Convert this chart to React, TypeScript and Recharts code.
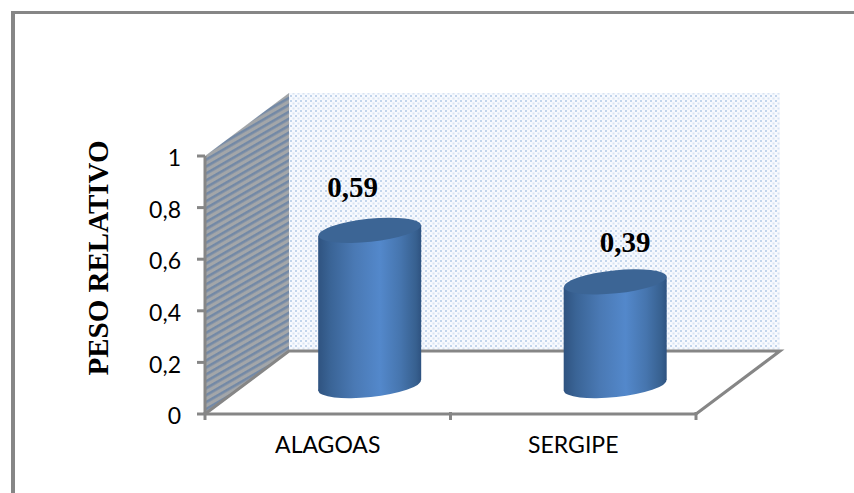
import { Bar, BarChart, Label, XAxis, YAxis, usePlotArea } from "recharts";

const estados = ["ALAGOAS", "SERGIPE"];
const pesoRelativo = [0.59, 0.39];
const yTicks = [0, 0.2, 0.4, 0.6, 0.8, 1];

const data = estados.map((estado, i) => ({ estado, peso: pesoRelativo[i] }));

const GRAY = "#868686";
const WIDTH = 854;
const HEIGHT = 493;

// depth of the pseudo-3D box, from the front axes to the back wall
const DEPTH_X = 84;
const DEPTH_Y = 63;

// hand-placed data labels, relative to the top of each cylinder
const labelNudge = [
  { dx: -17, dy: -33 },
  { dx: 10, dy: -30 },
];

const comma = (v: number) => String(v).replace(".", ",");

function Walls() {
  const plot = usePlotArea();
  if (!plot) return null;
  const left = plot.x;
  const right = plot.x + plot.width;
  const top = plot.y;
  const bottom = plot.y + plot.height;
  const backL = left + DEPTH_X;
  const backR = right + DEPTH_X;
  const backT = top - DEPTH_Y;
  const backB = bottom - DEPTH_Y;
  return (
    <g>
      <rect x={backL} y={backT} width={backR - backL} height={backB - backT} fill="url(#backWall)" />
      <polygon
        points={`${left},${top} ${backL},${backT} ${backL},${backB} ${left},${bottom}`}
        fill="url(#sideWall)"
      />
      <polyline
        points={`${left},${bottom} ${backL},${backB} ${backR},${backB} ${right},${bottom}`}
        fill="none"
        stroke={GRAY}
        strokeWidth={3}
      />
    </g>
  );
}

// cylinder standing halfway into the box depth
const Cylinder = ({ x, y, width, height }: any) => {
  const cx = x + width / 2 + DEPTH_X / 2;
  const rx = width / 2;
  const ry = 11.5;
  const tilt = -6;
  const lift = rx * Math.sin((-tilt * Math.PI) / 180);
  const topY = y - DEPTH_Y / 2;
  const baseY = y + height - DEPTH_Y / 2 + 3;
  const wall = [
    [cx - rx, topY + lift],
    [cx - rx, baseY + lift],
    [cx + rx, baseY - lift],
    [cx + rx, topY - lift],
  ]
    .map((p) => p.join(","))
    .join(" ");
  return (
    <g>
      <ellipse
        cx={cx}
        cy={baseY}
        rx={rx}
        ry={ry}
        transform={`rotate(${tilt} ${cx} ${baseY})`}
        fill="url(#cylBody)"
      />
      <polygon points={wall} fill="url(#cylBody)" />
      <ellipse
        cx={cx}
        cy={topY}
        rx={rx}
        ry={ry}
        transform={`rotate(${tilt} ${cx} ${topY})`}
        fill="#3c6595"
      />
    </g>
  );
};

const ValueLabel = ({ x, y, width, value, index }: any) => (
  <text
    x={x + width / 2 + DEPTH_X / 2 + labelNudge[index].dx}
    y={y - DEPTH_Y / 2 + labelNudge[index].dy}
    textAnchor="middle"
    fontFamily="'Liberation Serif', serif"
    fontWeight="bold"
    fontSize={29}
    fill="#000"
  >
    {comma(value)}
  </text>
);

// category label plus tick marks on the band edges instead of the band centre
const CategoryTick = ({ x, y, payload }: any) => {
  const half = payload.offset;
  const axisY = y - 22;
  return (
    <g>
      <line x1={x - half} x2={x - half} y1={axisY} y2={axisY + 8} stroke={GRAY} strokeWidth={3} />
      <line x1={x + half} x2={x + half} y1={axisY} y2={axisY + 8} stroke={GRAY} strokeWidth={3} />
      <text
        x={x}
        y={y + 19}
        textAnchor="middle"
        fontFamily="Lato, sans-serif"
        fontSize={23}
        fill="#000"
      >
        {payload.value}
      </text>
    </g>
  );
};

export default function App() {
  return (
    <div style={{ position: "absolute", left: 0, top: 0, width: WIDTH, height: HEIGHT, background: "#fff", overflow: "hidden" }}>
      <div style={{ position: "absolute", left: 11, top: 11, width: WIDTH, height: HEIGHT, borderLeft: `4px solid ${GRAY}`, borderTop: `3px solid ${GRAY}` }} />
      <BarChart
        width={WIDTH}
        height={HEIGHT}
        data={data}
        barCategoryGap="29%"
        margin={{ top: 156, right: 158, bottom: 39, left: 145 }}
        style={{ position: "absolute", left: 0, top: 0 }}
      >
        <defs>
          <pattern id="backWall" width="5" height="5" patternUnits="userSpaceOnUse">
            <rect width="5" height="5" fill="#f8fafe" />
            <rect width="2" height="2" fill="#c2d5ec" />
            <rect x="2.5" y="2.5" width="2" height="2" fill="#d8e4f3" />
          </pattern>
          <pattern id="sideWall" width="6" height="6" patternUnits="userSpaceOnUse" patternTransform="rotate(-30)">
            <rect width="6" height="6" fill="#a3a6a9" />
            <rect width="6" height="2.6" fill="#7389a6" />
          </pattern>
          <linearGradient id="cylBody" x1="0" y1="0" x2="1" y2="0">
            <stop offset="0%" stopColor="#2f5380" />
            <stop offset="12%" stopColor="#3a6496" />
            <stop offset="35%" stopColor="#4a79b4" />
            <stop offset="60%" stopColor="#5388cb" />
            <stop offset="80%" stopColor="#4675ae" />
            <stop offset="95%" stopColor="#37608f" />
            <stop offset="100%" stopColor="#2e5280" />
          </linearGradient>
        </defs>
        <Walls />
        <XAxis
          dataKey="estado"
          height={40}
          axisLine={{ stroke: GRAY, strokeWidth: 3 }}
          tickLine={false}
          tick={<CategoryTick />}
          tickMargin={14}
        />
        <YAxis
          domain={[0, 1]}
          ticks={yTicks}
          width={60}
          interval={0}
          axisLine={{ stroke: GRAY, strokeWidth: 3 }}
          tickLine={{ stroke: GRAY, strokeWidth: 3 }}
          tickSize={8}
          tickMargin={16}
          tickFormatter={comma}
          tick={{ fill: "#000", fontSize: 23, fontFamily: "Lato, sans-serif", dy: 2 }}
        >
          <Label
            value="PESO RELATIVO"
            angle={-90}
            position="center"
            dx={-77}
            dy={-27}
            style={{ fontFamily: "'Liberation Serif', serif", fontWeight: "bold", fontSize: 29, fill: "#000" }}
          />
        </YAxis>
        <Bar dataKey="peso" isAnimationActive={false} shape={<Cylinder />} label={<ValueLabel />} />
      </BarChart>
    </div>
  );
}
